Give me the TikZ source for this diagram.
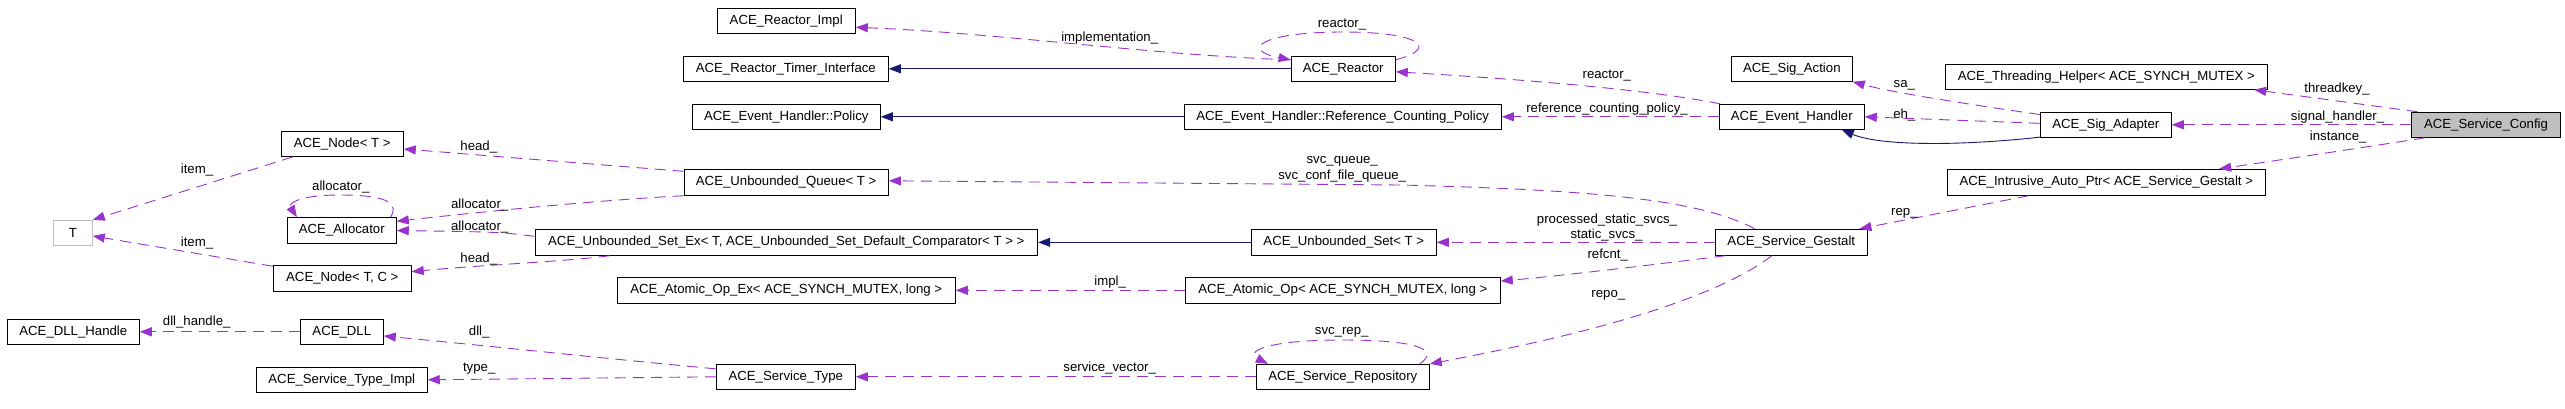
\documentclass[tikz,border=0pt]{standalone}
\usepackage{fontspec}
\setmainfont{Liberation Sans}
\usetikzlibrary{arrows.meta}
\definecolor{dorchid}{HTML}{9A32CD}
\definecolor{mblue}{HTML}{191970}
\definecolor{gray75}{HTML}{BFBFBF}
\begin{document}
\begin{tikzpicture}[x=1pt,y=-1pt,
  cls/.style={draw=black, line width=0.9pt, fill=white, rectangle, minimum height=25pt, inner sep=1pt,
    font=\fontsize{13.2pt}{15pt}\selectfont},
  lbl/.style={inner sep=0pt, font=\fontsize{13.2pt}{15pt}\selectfont},
  dep/.style={draw=dorchid, line width=0.9pt, dash pattern=on 11pt off 7pt,
    -{Triangle[length=12pt,width=9pt]}},
  inh/.style={draw=mblue, line width=0.9pt, -{Triangle[length=12pt,width=9pt]}}]
\useasboundingbox (0,0) rectangle (2565,408);
\fill[white] (0,0) rectangle (2565,408);
% nodes
\node[cls, draw=gray75, minimum width=39pt] (T) at (72.8,232.8) {T};
\node[cls, minimum width=122.3pt] (NodeT) at (342.2,144) {ACE\_Node< T >};
\node[cls, minimum width=109pt, minimum height=25.6pt] (Alloc) at (341.8,230.5) {ACE\_Allocator};
\node[cls, minimum width=138pt, minimum height=25.6pt] (NodeTC) at (342.3,278.5) {ACE\_Node< T, C >};
\node[cls, minimum width=132pt] (DLLH) at (73.3,331.8) {ACE\_DLL\_Handle};
\node[cls, minimum width=83pt] (DLL) at (341.8,331.8) {ACE\_DLL};
\node[cls, minimum width=171pt] (STImpl) at (341.8,379.8) {ACE\_Service\_Type\_Impl};
\node[cls, minimum width=138.3pt] (RImpl) at (786.2,20.8) {ACE\_Reactor\_Impl};
\node[cls, minimum width=205pt] (RTI) at (785.8,68.8) {ACE\_Reactor\_Timer\_Interface};
\node[cls, minimum width=188pt] (Policy) at (786.3,116.8) {ACE\_Event\_Handler::Policy};
\node[cls, minimum width=204.3pt, minimum height=26pt] (Queue) at (786.2,182.3) {ACE\_Unbounded\_Queue< T >};
\node[cls, minimum width=502.7pt, minimum height=26pt] (SetEx) at (786.3,242.3) {ACE\_Unbounded\_Set\_Ex< T, ACE\_Unbounded\_Set\_Default\_Comparator< T > >};
\node[cls, minimum width=338pt, minimum height=26pt] (AtomEx) at (786.3,290.3) {ACE\_Atomic\_Op\_Ex< ACE\_SYNCH\_MUTEX, long >};
\node[cls, minimum width=139pt] (SType) at (785.8,376.8) {ACE\_Service\_Type};
\node[cls, minimum width=104.3pt] (Reactor) at (1343.2,68.8) {ACE\_Reactor};
\node[cls, minimum width=317.3pt] (RCP) at (1342.7,116.8) {ACE\_Event\_Handler::Reference\_Counting\_Policy};
\node[cls, minimum width=185pt, minimum height=26pt] (USet) at (1343.8,242.3) {ACE\_Unbounded\_Set< T >};
\node[cls, minimum width=315pt, minimum height=26pt] (Atom) at (1342.8,290.3) {ACE\_Atomic\_Op< ACE\_SYNCH\_MUTEX, long >};
\node[cls, minimum width=173pt] (SRepo) at (1342.8,376.8) {ACE\_Service\_Repository};
\node[cls, minimum width=121pt] (SigAction) at (1791.8,68.8) {ACE\_Sig\_Action};
\node[cls, minimum width=145pt] (EH) at (1791.8,116.8) {ACE\_Event\_Handler};
\node[cls, minimum width=152pt, minimum height=26pt] (Gestalt) at (1791.3,242.3) {ACE\_Service\_Gestalt};
\node[cls, minimum width=322pt] (THelper) at (2106.3,76.8) {ACE\_Threading\_Helper< ACE\_SYNCH\_MUTEX >};
\node[cls, minimum width=131pt] (SigAdapter) at (2105.8,124.8) {ACE\_Sig\_Adapter};
\node[cls, minimum width=318pt, minimum height=26pt] (AutoPtr) at (2106.3,182.3) {ACE\_Intrusive\_Auto\_Ptr< ACE\_Service\_Gestalt >};
\node[cls, fill=gray75, minimum width=149.4pt] (Config) at (2486,124.8) {ACE\_Service\_Config};
% edges
\draw[dep] ([xshift=12pt]NodeT.south west) -- (T.north east);
\draw[dep] ([yshift=-1pt]NodeTC.north west) -- ([yshift=-3.2pt]T.east);
\draw[dep] ([xshift=-6pt]Alloc.north east) .. controls (398,205) and (392,195) .. (340,195) .. controls (300,195) and (288,203) .. ([xshift=10pt]Alloc.north west);
\draw[dep] (Queue.south west) .. controls (600,200) and (480,212) .. ([yshift=-4pt]Alloc.north east);
\draw[dep] ([yshift=-2.5pt]Queue.north west) -- ([yshift=-5pt]NodeT.east);
\draw[dep] ([yshift=6pt]SetEx.west) .. controls (500,232) .. (Alloc.east);
\draw[dep] ([xshift=75pt]SetEx.south west) .. controls (560,262) and (480,265) .. ([yshift=6.8pt]NodeTC.east);
\draw[dep] (DLL.west) -- (DLLH.east);
\draw[dep] ([yshift=-5pt]SType.north west) .. controls (620,360) and (480,345) .. ([yshift=-4.2pt]DLL.east);
\draw[dep] (SType.west) -- (STImpl.east);
\draw[dep] ([yshift=-4pt]Reactor.north west) .. controls (1150,55) and (1000,33) .. ([yshift=-6.5pt]RImpl.east);
\draw[inh] (Reactor.west) -- (RTI.east);
\draw[dep] ([yshift=-4pt]Reactor.north east) .. controls (1440,48) and (1420,32) .. (1343,32) .. controls (1260,32) and (1240,50) .. ([yshift=-4pt]Reactor.north west);
\draw[inh] (RCP.west) -- (Policy.east);
\draw[dep] ([xshift=1.5pt]EH.north west) .. controls (1640,88) and (1500,78) .. ([yshift=-3pt]Reactor.east);
\draw[dep] (EH.west) -- (RCP.east);
\draw[dep] ([yshift=-2.7pt]SigAdapter.north west) .. controls (1960,103) and (1890,92) .. (SigAction.south east);
\draw[dep] ([yshift=1.5pt]SigAdapter.west) -- (EH.east);
\draw[inh] ([yshift=0.6pt]SigAdapter.south west) .. controls (1960,146) and (1880,146) .. ([xshift=-23pt]EH.south east);
\draw[dep] ([xshift=7pt]Config.north west) -- ([xshift=-13.6pt]THelper.south east);
\draw[dep] (Config.west) -- (SigAdapter.east);
\draw[dep] ([xshift=14pt]Config.south west) .. controls (2380,145) and (2280,160) .. ([xshift=-46.6pt]AutoPtr.north east);
\draw[dep] ([xshift=81.7pt]AutoPtr.south west) -- ([xshift=-8.3pt]Gestalt.north east);
\draw[dep] ([xshift=40pt]Gestalt.north west) .. controls (1700,200) and (1600,190) .. (1400,185) -- ([yshift=1.5pt]Queue.east);
\draw[dep] (Gestalt.west) -- (USet.east);
\draw[dep] ([xshift=10.4pt]Gestalt.south west) .. controls (1650,265) and (1560,276) .. ([yshift=9.3pt]Atom.east);
\draw[dep] ([xshift=57pt]Gestalt.south west) .. controls (1700,310) and (1530,345) .. (SRepo.north east);
\draw[dep] ([xshift=-10pt]SRepo.north east) .. controls (1440,350) and (1420,340) .. (1342,340) .. controls (1265,340) and (1245,352) .. ([xshift=12pt]SRepo.north west);
\draw[dep] (Atom.west) -- (AtomEx.east);
\draw[inh] (USet.west) -- (SetEx.east);
\draw[dep] (SRepo.west) -- (SType.east);
% labels
\node[lbl] (l1) at (197,170.5) {item\_};
\node[lbl] (l2) at (197,243) {item\_};
\node[lbl] (l3) at (340.8,187) {allocator\_};
\node[lbl] (l4) at (479.7,205) {allocator\_};
\node[lbl] (l5) at (479.7,226.8) {allocator\_};
\node[lbl] (l6) at (478.8,147.5) {head\_};
\node[lbl] (l7) at (478.8,259.2) {head\_};
\node[lbl] (l8) at (196.7,322.5) {dll\_handle\_};
\node[lbl] (l9) at (479.2,331.7) {dll\_};
\node[lbl] (l10) at (479.2,368.3) {type\_};
\node[lbl] (l11) at (1109.7,38.5) {implementation\_};
\node[lbl] (l12) at (1342,25) {reactor\_};
\node[lbl] (l13) at (1342.2,161) {svc\_queue\_};
\node[lbl] (l14) at (1342.2,175.8) {svc\_conf\_file\_queue\_};
\node[lbl] (l15) at (1110.2,282.5) {impl\_};
\node[lbl] (l16) at (1341.7,332.5) {svc\_rep\_};
\node[lbl] (l17) at (1109.7,368.3) {service\_vector\_};
\node[lbl] (l18) at (1606.8,75.8) {reactor\_};
\node[lbl] (l19) at (1607,109) {reference\_counting\_policy\_};
\node[lbl] (l20) at (1607,220) {processed\_static\_svcs\_};
\node[lbl] (l21) at (1606.5,235) {static\_svcs\_};
\node[lbl] (l22) at (1607.7,255) {refcnt\_};
\node[lbl] (l23) at (1608.3,295) {repo\_};
\node[lbl] (l24) at (1904.3,85.3) {sa\_};
\node[lbl] (l25) at (1904.3,115) {eh\_};
\node[lbl] (l26) at (1904.3,213.2) {rep\_};
\node[lbl] (l27) at (2337,88.8) {threadkey\_};
\node[lbl] (l28) at (2337.5,117.2) {signal\_handler\_};
\node[lbl] (l29) at (2338.2,136.8) {instance\_};
\end{tikzpicture}
\end{document}
